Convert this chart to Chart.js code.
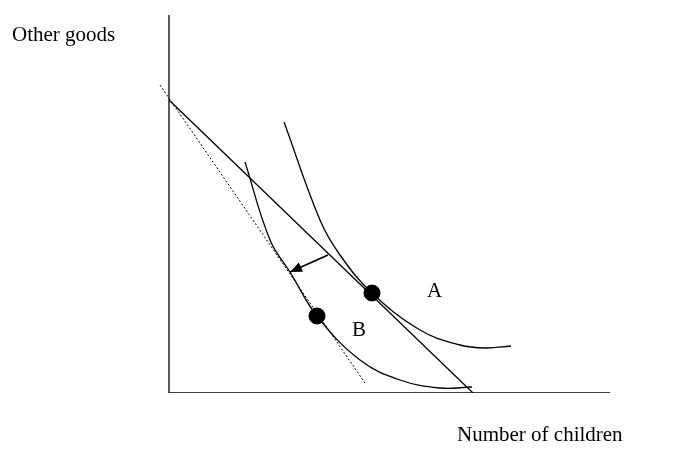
<!DOCTYPE html>
<html><head><script src="https://cdn.jsdelivr.net/npm/chart.js"></script>
<style>html,body{margin:0;background:#fff}#w{width:678px;height:455px}</style></head>
<body><div id="w"><canvas id="c"></canvas></div>
<script>
const axisY=[{x:0,y:0},{x:0,y:378}];
const axisX=[{x:0,y:0},{x:441,y:0}];
const budget=[{x:0,y:293},{x:304,y:0}];
const tangent=[{x:-9,y:308},{x:196,y:10}];
const curveA=[{x:115,y:271},{x:151,y:173},{x:171,y:138},{x:203,y:100},{x:251,y:63},{x:291,y:48},{x:316,y:45},{x:342,y:47}];
const curveB=[{x:76,y:231},{x:101,y:153},{x:121,y:121},{x:148,y:77},{x:191,y:33},{x:231,y:13},{x:271,y:5},{x:303,y:6}];
const dots=[{x:203,y:100},{x:148,y:77}];
const arrow=[{x:159,y:138},{x:121,y:121}];
const labels=[{t:"A",x:258,y:102},{t:"B",x:183,y:63}];
const ln=(d,extra)=>Object.assign({type:'line',data:d,borderColor:'#000',borderWidth:1.3,pointRadius:0,fill:false},extra||{});
const textPlugin={id:'txt',afterDraw(ch){
 const c=ch.ctx,xs=ch.scales.x,ys=ch.scales.y;
 c.save();c.fillStyle='#000';c.font='21px "Liberation Serif"';c.textBaseline='middle';
 labels.forEach(l=>c.fillText(l.t,xs.getPixelForValue(l.x),ys.getPixelForValue(l.y)));
 c.fillText("Other goods",12,35);c.fillText("Number of children",457,435);
 const x1=xs.getPixelForValue(arrow[0].x),y1=ys.getPixelForValue(arrow[0].y),x2=xs.getPixelForValue(arrow[1].x),y2=ys.getPixelForValue(arrow[1].y);
 const a=Math.atan2(y2-y1,x2-x1);c.beginPath();c.moveTo(x2,y2);
 c.lineTo(x2-13*Math.cos(a-0.4),y2-13*Math.sin(a-0.4));c.lineTo(x2-13*Math.cos(a+0.4),y2-13*Math.sin(a+0.4));c.closePath();c.fill();
 c.restore();}};
new Chart(document.getElementById('c'),{type:'scatter',
 data:{datasets:[ln(axisY),ln(axisX),ln(budget),ln(tangent,{borderDash:[2,2],borderWidth:1}),
  ln(curveA,{tension:0.4}),ln(curveB,{tension:0.4}),ln(arrow,{borderWidth:1.6}),
  {type:'scatter',data:dots,pointRadius:8,backgroundColor:'#000',borderColor:'#000'}]},
 options:{responsive:true,maintainAspectRatio:false,animation:false,
  layout:{padding:{left:154,right:68,top:15,bottom:62}},
  plugins:{legend:{display:false},tooltip:{enabled:false}},
  scales:{x:{type:'linear',min:-15,max:441,display:false},y:{min:0,max:378,display:false}}},
 plugins:[textPlugin]});
</script></body></html>
